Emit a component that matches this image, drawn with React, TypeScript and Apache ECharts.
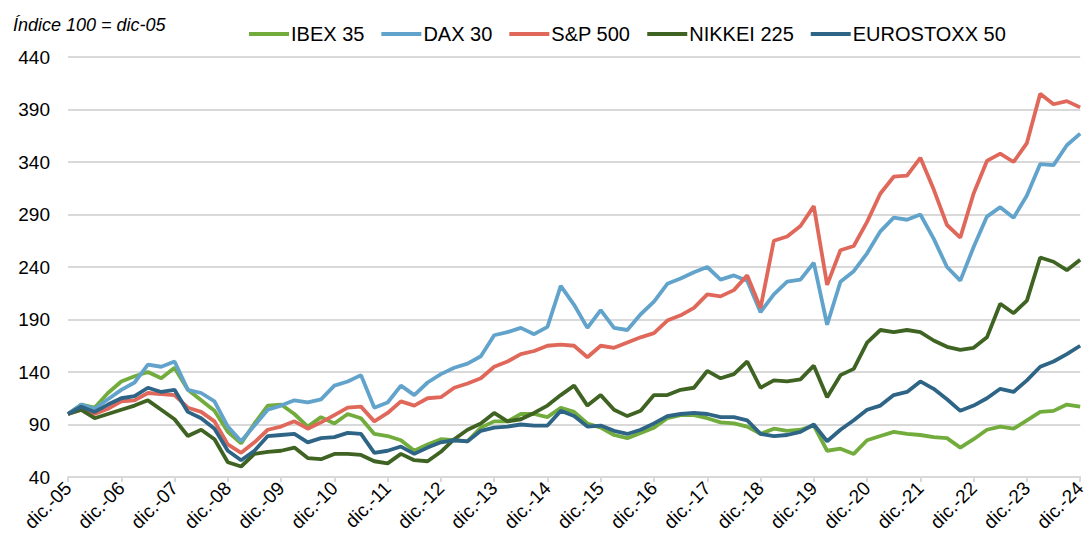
import React, { useEffect, useRef } from 'react';
import * as echarts from 'echarts';

// Quarter-end readings (dic-05 ... dic-24), index 100 = dic-05
const tickLabels = ['dic.-05', 'dic.-06', 'dic.-07', 'dic.-08', 'dic.-09', 'dic.-10', 'dic.-11', 'dic.-12', 'dic.-13', 'dic.-14', 'dic.-15', 'dic.-16', 'dic.-17', 'dic.-18', 'dic.-19', 'dic.-20', 'dic.-21', 'dic.-22', 'dic.-23', 'dic.-24'];

const ibex35 = [100, 109, 106, 120, 131, 136, 140, 134, 144, 123, 113, 103, 83, 72, 91, 108, 109, 100, 88, 97, 91, 100, 96, 81, 79, 75, 65, 71, 76, 75, 74, 87, 93, 93, 100, 100, 97, 106, 102, 91, 87, 80, 77, 82, 87, 96, 99, 99, 96, 92, 91, 88, 81, 86, 84, 85, 89, 65, 67, 62, 75, 79, 83, 81, 80, 78, 77, 68, 76, 85, 88, 86, 94, 102, 103, 109, 107];
const dax30 = [100, 109, 105, 114, 123, 130, 147, 145, 150, 123, 120, 112, 88, 74, 89, 104, 108, 113, 111, 114, 127, 131, 137, 106, 111, 127, 118, 130, 138, 144, 148, 155, 175, 178, 182, 176, 183, 222, 204, 182, 199, 182, 180, 195, 207, 224, 229, 235, 240, 228, 232, 227, 197, 214, 226, 228, 244, 185, 226, 236, 253, 274, 287, 285, 290, 267, 240, 227, 259, 288, 297, 287, 308, 338, 337, 356, 367];
const sp500 = [100, 104, 100, 105, 112, 113, 120, 119, 118, 106, 102, 93, 71, 63, 73, 85, 88, 93, 86, 92, 99, 106, 107, 93, 101, 112, 108, 115, 116, 125, 129, 134, 145, 150, 157, 160, 165, 166, 165, 154, 165, 163, 168, 173, 177, 189, 194, 201, 214, 212, 218, 232, 201, 265, 269, 279, 298, 223, 256, 260, 283, 310, 326, 327, 344, 314, 280, 268, 310, 341, 348, 340, 358, 405, 395, 398, 392];
const nikkei225 = [100, 104, 96, 100, 104, 108, 113, 104, 95, 79, 85, 76, 54, 50, 62, 64, 65, 68, 58, 57, 62, 62, 61, 55, 53, 62, 56, 55, 64, 76, 85, 91, 101, 93, 95, 101, 108, 118, 127, 108, 118, 104, 98, 103, 118, 118, 123, 125, 141, 134, 138, 150, 125, 132, 131, 133, 146, 116, 137, 143, 168, 180, 178, 180, 178, 170, 164, 161, 163, 173, 205, 196, 208, 249, 245, 237, 247];
const eurostoxx50 = [100, 107, 102, 109, 115, 117, 125, 121, 123, 102, 96, 86, 65, 56, 65, 79, 80, 81, 73, 77, 78, 82, 81, 63, 65, 69, 62, 68, 73, 75, 74, 84, 87, 88, 90, 89, 89, 103, 98, 88, 89, 84, 81, 85, 91, 98, 100, 101, 100, 97, 97, 94, 81, 79, 80, 83, 90, 74, 85, 94, 104, 108, 118, 121, 131, 124, 114, 103, 108, 115, 124, 121, 132, 145, 150, 157, 165];

const seriesNames = ['IBEX 35', 'DAX 30', 'S&P 500', 'NIKKEI 225', 'EUROSTOXX 50'];
const seriesColors = ['#72AC3C', '#62A3CB', '#E0685A', '#3F6322', '#2E6485'];
const seriesValues = [ibex35, dax30, sp500, nikkei225, eurostoxx50];

const FONT = "'Liberation Sans', Arial, sans-serif";

export default function App() {
  const ref = useRef<HTMLDivElement>(null);
  useEffect(() => {
    if (!ref.current) return;
    const chart = echarts.init(ref.current, null, { renderer: 'svg' });
    chart.setOption({
      animation: false,
      backgroundColor: '#ffffff',
      textStyle: { fontFamily: FONT },
      title: {
        text: 'Índice 100 = dic-05',
        left: 8,
        top: 11,
        textStyle: { fontFamily: FONT, fontSize: 18, fontStyle: 'italic', fontWeight: 'normal', color: '#000' },
      },
      legend: {
        left: 244,
        top: 19,
        icon: 'rect',
        itemWidth: 40,
        itemHeight: 4,
        itemGap: 17,
        textStyle: { fontFamily: FONT, fontSize: 20, color: '#000', padding: [0, 0, 0, -3] },
        data: seriesNames,
      },
      grid: { left: 68, right: 6, top: 57, bottom: 69, containLabel: false },
      xAxis: {
        type: 'value',
        min: 0,
        max: 228,
        interval: 12,
        axisLine: { show: true, lineStyle: { color: '#d9d9d9', width: 2 } },
        axisTick: { show: true, length: 5, lineStyle: { color: '#d9d9d9', width: 2 } },
        splitLine: { show: false },
        axisLabel: {
          rotate: 45,
          margin: 8,
          fontFamily: FONT,
          fontSize: 19,
          color: '#000',
          formatter: (v: number) => tickLabels[Math.round(v / 12)] ?? '',
        },
      },
      yAxis: {
        type: 'value',
        min: 40,
        max: 440,
        interval: 50,
        axisLine: { show: false },
        axisTick: { show: false },
        splitLine: { lineStyle: { color: '#d9d9d9', width: 2 } },
        axisLabel: { margin: 18, fontFamily: FONT, fontSize: 19, color: '#000' },
      },
      series: seriesNames.map((name, k) => ({
        name,
        type: 'line',
        symbol: 'none',
        color: seriesColors[k],
        lineStyle: { width: 3.8, color: seriesColors[k] },
        data: seriesValues[k].map((v, i) => [i * 3, v]),
      })),
    });
    return () => chart.dispose();
  }, []);
  return <div ref={ref} style={{ width: 1089, height: 546, position: 'absolute', left: 0, top: 0 }} />;
}
